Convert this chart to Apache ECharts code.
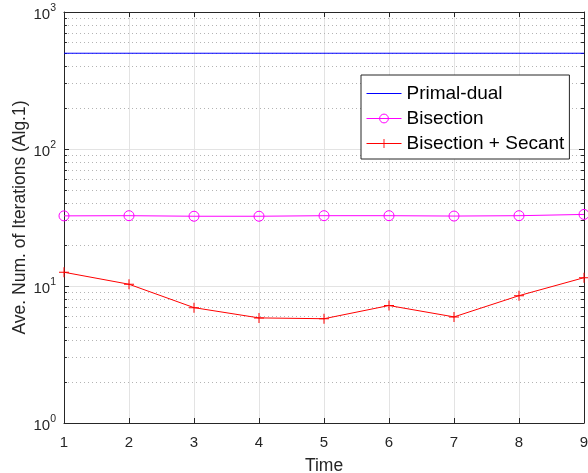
<!DOCTYPE html>
<html>
<head>
<meta charset="utf-8">
<script src="https://cdn.jsdelivr.net/npm/echarts@6/dist/echarts.min.js"></script>
<style>
  html, body { margin: 0; padding: 0; background: #fff; }
  #main { width: 588px; height: 473px; }
</style>
</head>
<body>
<div id="main"></div>
<script>
// data
var times = [1, 2, 3, 4, 5, 6, 7, 8, 9];
var primalDual = [500, 500, 500, 500, 500, 500, 500, 500, 500];
var bisection = [32.5, 32.6, 32.3, 32.3, 32.6, 32.6, 32.4, 32.6, 33.3];
var bisectionSecant = [12.6, 10.3, 6.95, 5.85, 5.77, 7.2, 5.95, 8.5, 11.5];
var yTicks = [1, 10, 100, 1000];
var minorVals = [];
[1, 10, 100].forEach(function (d) {
  for (var k = 2; k <= 9; k++) minorVals.push(k * d);
});

var axisColor = '#262626';
var font = 'Liberation Sans, Arial, sans-serif';
var plus = 'path://M4.5,0h1v4.5h4.5v1h-4.5v4.5h-1v-4.5h-4.5v-1h4.5z';

// dotted minor grid + small inner ticks on both sides
var minorLines = minorVals.map(function (v) {
  return { yAxis: v, lineStyle: { type: [1, 3], color: '#b4b4b4', width: 1 } };
});
var minorTicks = [];
minorVals.forEach(function (v) {
  minorTicks.push([
    { coord: [1, v], lineStyle: { type: 'solid', color: axisColor, width: 1 } },
    { coord: [1.045, v] }
  ]);
  minorTicks.push([
    { coord: [8.955, v], lineStyle: { type: 'solid', color: axisColor, width: 1 } },
    { coord: [9, v] }
  ]);
});

var myChart = echarts.init(document.getElementById('main'));

var option = {
  animation: false,
  textStyle: { fontFamily: font },
  grid: { left: 64, right: 4, top: 12, bottom: 50, containLabel: false, outerBoundsMode: 'none' },
  legend: {
    orient: 'vertical',
    left: 361,
    top: 75,
    padding: [9, 5, 6, 5],
    itemGap: 6,
    itemWidth: 35,
    itemHeight: 11,
    borderColor: axisColor,
    borderWidth: 1,
    borderRadius: 0,
    backgroundColor: '#fff',
    z: 10,
    textStyle: { fontSize: 19, color: '#000', fontFamily: font },
    data: [
      { name: 'Primal-dual', itemStyle: { color: 'rgba(0,0,0,0)', borderColor: 'rgba(0,0,0,0)', borderWidth: 0 }, lineStyle: { width: 1, color: '#0000ff' } },
      { name: 'Bisection', itemStyle: { borderWidth: 1 }, lineStyle: { width: 1, color: '#ff00ff' } },
      { name: 'Bisection + Secant', lineStyle: { width: 1, color: '#ff0000' } }
    ]
  },
  xAxis: [{
    type: 'value',
    min: 1,
    max: 9,
    interval: 1,
    name: 'Time',
    nameLocation: 'middle',
    nameGap: 34,
    nameMoveOverlap: false,
    nameTextStyle: { fontSize: 17.5, color: axisColor },
    axisLine: { onZero: false, lineStyle: { color: axisColor } },
    axisTick: { inside: true, length: 5, lineStyle: { color: axisColor } },
    axisLabel: { fontSize: 15, color: axisColor, margin: 12 },
    splitLine: { show: true, lineStyle: { color: '#e3e3e3' } }
  }, {
    type: 'value',
    position: 'top',
    min: 1,
    max: 9,
    interval: 1,
    axisLine: { onZero: false, lineStyle: { color: axisColor } },
    axisTick: { inside: true, length: 5, lineStyle: { color: axisColor } },
    axisLabel: { show: false },
    splitLine: { show: false }
  }],
  yAxis: [{
    type: 'log',
    logBase: 10,
    min: 1,
    max: 1000,
    interval: 1,
    name: 'Ave. Num. of Iterations (Alg.1)',
    nameLocation: 'middle',
    nameGap: 35,
    nameMoveOverlap: false,
    nameTextStyle: { fontSize: 17.5, color: axisColor },
    axisLine: { onZero: false, lineStyle: { color: axisColor } },
    axisTick: { inside: true, length: 5, lineStyle: { color: axisColor } },
    axisLabel: {
      margin: 8,
      formatter: function (v) {
        return '{b|10}{s|' + Math.round(Math.log10(v)) + '}';
      },
      rich: {
        b: { fontSize: 15, color: axisColor, fontFamily: font, padding: [6, 0, 0, 0] },
        s: { fontSize: 10.5, color: axisColor, fontFamily: font, padding: [0, 0, 8, 0] }
      }
    },
    splitLine: { show: true, lineStyle: { color: '#e3e3e3' } }
  }, {
    type: 'log',
    logBase: 10,
    position: 'right',
    min: 1,
    max: 1000,
    interval: 1,
    axisLine: { onZero: false, lineStyle: { color: axisColor } },
    axisTick: { inside: true, length: 5, lineStyle: { color: axisColor } },
    axisLabel: { show: false },
    splitLine: { show: false }
  }],
  series: [{
    // carrier for the minor grid and minor ticks, drawn beneath the data
    name: 'minor',
    type: 'line',
    data: [],
    z: 1,
    markLine: {
      silent: true,
      z: 1,
      symbol: 'none',
      label: { show: false },
      animation: false,
      data: minorLines.concat(minorTicks)
    }
  }, {
    name: 'Primal-dual',
    type: 'line',
    data: times.map(function (t, i) { return [t, primalDual[i]]; }),
    symbol: 'circle',
    showSymbol: false,
    itemStyle: { color: '#0000ff' },
    lineStyle: { color: '#0000ff', width: 1 },
    z: 4
  }, {
    name: 'Bisection',
    type: 'line',
    data: times.map(function (t, i) { return [t, bisection[i]]; }),
    symbol: 'circle',
    symbolSize: 10,
    itemStyle: { color: 'rgba(0,0,0,0)', borderColor: '#ff00ff', borderWidth: 1 },
    lineStyle: { color: '#ff00ff', width: 1 },
    z: 4
  }, {
    name: 'Bisection + Secant',
    type: 'line',
    data: times.map(function (t, i) { return [t, bisectionSecant[i]]; }),
    symbol: plus,
    symbolSize: 10,
    itemStyle: { color: '#ff0000' },
    lineStyle: { color: '#ff0000', width: 1 },
    z: 4
  }]
};

myChart.setOption(option);
</script>
</body>
</html>
